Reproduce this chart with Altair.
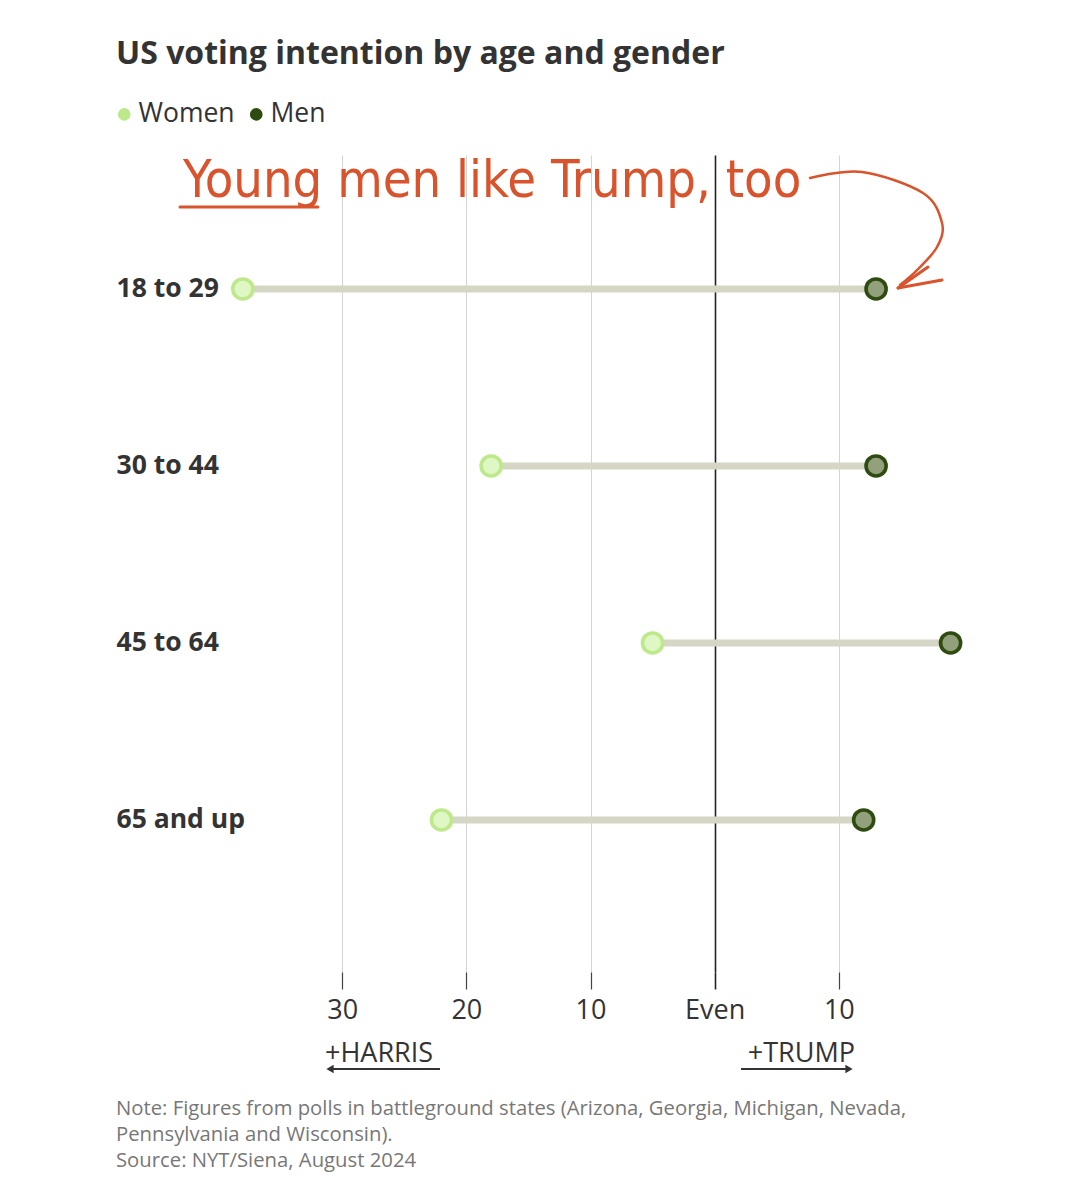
import json
import altair as alt
import pandas as pd

# ---- data (margins in points; negative = Harris lead, positive = Trump lead)
AGES = ["18 to 29", "30 to 44", "45 to 64", "65 and up"]
WOMEN = [-38, -18, -5, -22]
MEN = [13, 13, 19, 12]
GENDERS = ["Women", "Men"]
X_TICKS = [-30, -20, -10, 0, 10]

TITLE = "US voting intention by age and gender"
ANNOTATION = "Young men like Trump, too"
FOOTER = [
    "Note: Figures from polls in battleground states (Arizona, Georgia, Michigan, Nevada,",
    "Pennsylvania and Wisconsin).",
    "Source: NYT/Siena, August 2024",
]

# annotation arrow path (data units: x = margin, y = row index)
ARROW_X = [7.68, 11.87, 16.78, 18.31, 17.91, 16.30, 14.93]
ARROW_Y = [-0.627, -0.661, -0.542, -0.373, -0.237, -0.107, -0.023]

FONT = "Open Sans"
W, H = 745, 817
X_DOMAIN = [-40, 20]
Y_DOMAIN = [-0.757, 3.859]

wide = pd.DataFrame({"age": AGES, "row": list(range(len(AGES))), "women": WOMEN, "men": MEN})
long = pd.DataFrame({
    "gender": [GENDERS[0]] * len(AGES) + [GENDERS[1]] * len(AGES),
    "row": list(range(len(AGES))) * 2,
    "value": WOMEN + MEN,
})

xscale = alt.Scale(domain=X_DOMAIN, nice=False, zero=False)
yscale = alt.Scale(domain=Y_DOMAIN, nice=False, zero=False, reverse=True)

xaxis = alt.Axis(
    values=X_TICKS,
    labelExpr="datum.value == 0 ? 'Even' : abs(datum.value)",
    grid=True,
    gridColor={"condition": {"test": "datum.value === 0", "value": "#222222"}, "value": "#d4d4d4"},
    gridWidth={"condition": {"test": "datum.value === 0", "value": 1.6}, "value": 1},
    tickColor={"condition": {"test": "datum.value === 0", "value": "#222222"}, "value": "#444444"},
    tickWidth={"condition": {"test": "datum.value === 0", "value": 1.6}, "value": 1.2},
    ticks=True, tickSize=17, domain=False,
    labelPadding=8, labelFontSize=27, labelFont=FONT, labelColor="#333333",
    labelFlush=False, title=None,
)
yaxis = alt.Axis(
    values=list(range(len(AGES))),
    labelExpr=json.dumps(AGES) + "[datum.value]",
    grid=False, ticks=False, domain=False,
    labelAlign="left", labelBaseline="middle", labelPadding=102,
    labelFontSize=26.5, labelFont=FONT, labelFontWeight="bold", labelColor="#333333",
    title=None,
)


def X(field):
    return alt.X(field, type="quantitative", scale=xscale, axis=xaxis)


def Y(field):
    return alt.Y(field, type="quantitative", scale=yscale, axis=yaxis)


one = alt.Data(values=[{"a": 1}])

connectors = alt.Chart(wide).mark_rule(strokeWidth=7, color="#d6d6c7").encode(
    x=X("women"), x2="men", y=Y("row")
)

outer = alt.Chart(long).mark_circle(size=560, opacity=1).encode(
    x=X("value"), y=Y("row"),
    color=alt.Color(
        "gender:N",
        scale=alt.Scale(domain=GENDERS, range=["#bde98a", "#2e4c10"]),
        legend=alt.Legend(
            orient="none", legendX=-107, legendY=-54, direction="horizontal",
            title=None, labelFontSize=26.5, labelFont=FONT, labelColor="#333333",
            symbolType="circle", symbolSize=160, symbolStrokeWidth=0,
            labelOffset=1, columnPadding=8, padding=0,
        ),
    ),
)
inner = alt.Chart(long).mark_circle(size=270, opacity=1).encode(
    x=X("value"), y=Y("row"),
    fill=alt.Fill("gender:N", scale=alt.Scale(domain=GENDERS, range=["#dff7c4", "#93a07c"]), legend=None),
)

# handwritten annotation
ann_color = "#d9532c"
ann_text = alt.Chart(pd.DataFrame({"x": [-42.82], "y": [-0.52], "t": [ANNOTATION]})).mark_text(
    align="left", baseline="alphabetic", fontSize=52,
    font="Liberation Sans Narrow, DejaVu Sans Condensed, sans-serif", color=ann_color,
).encode(x=X("x"), y=Y("y"), text="t:N")
ann_under = alt.Chart(pd.DataFrame({"x": [-43.06], "x2": [-31.95], "y": [-0.463]})).mark_rule(
    color=ann_color, strokeWidth=3, strokeCap="round"
).encode(x=X("x"), x2="x2", y=Y("y"))
arrow_df = pd.DataFrame({"x": ARROW_X, "y": ARROW_Y, "o": list(range(len(ARROW_X)))})
ann_arrow = alt.Chart(arrow_df).mark_line(
    color=ann_color, strokeWidth=2.5, interpolate="cardinal", strokeCap="round"
).encode(x=X("x"), y=Y("y"), order="o:Q")
head_df = pd.DataFrame({"x": [14.77, 14.77], "y": [-0.006, -0.006], "x2": [17.18, 18.31], "y2": [-0.124, -0.051]})
ann_head = alt.Chart(head_df).mark_rule(color=ann_color, strokeWidth=3, strokeCap="round").encode(
    x=X("x"), y=Y("y"), x2="x2", y2="y2"
)

# title, direction labels and footer (fixed page furniture)
title = alt.Chart(one).mark_text(
    text=TITLE, align="left", baseline="middle", fontSize=32, font=FONT, fontWeight="bold", color="#333333"
).encode(x=alt.value(-102), y=alt.value(-101))

harris = alt.Chart(one).mark_text(
    text="+HARRIS", align="left", baseline="middle", fontSize=27, font=FONT, color="#333333"
).encode(x=alt.value(107), y=alt.value(899))
trump = alt.Chart(one).mark_text(
    text="+TRUMP", align="right", baseline="middle", fontSize=27, font=FONT, color="#333333"
).encode(x=alt.value(637), y=alt.value(899))
harris_line = alt.Chart(one).mark_rule(color="#333333", strokeWidth=2).encode(
    x=alt.value(112), x2=alt.value(222), y=alt.value(914)
)
trump_line = alt.Chart(one).mark_rule(color="#333333", strokeWidth=2).encode(
    x=alt.value(523), x2=alt.value(630), y=alt.value(914)
)
harris_head = alt.Chart(one).mark_point(shape="triangle-left", filled=True, size=70, color="#333333", opacity=1).encode(
    x=alt.value(112), y=alt.value(914)
)
trump_head = alt.Chart(one).mark_point(shape="triangle-right", filled=True, size=70, color="#333333", opacity=1).encode(
    x=alt.value(631), y=alt.value(914)
)

footer = alt.Chart(one).mark_text(
    text=FOOTER, align="left", baseline="top", fontSize=20.3, font=FONT, color="#777777", lineHeight=26
).encode(x=alt.value(-102), y=alt.value(944))

chart = alt.layer(
    connectors, outer, inner, ann_text, ann_under, ann_arrow, ann_head,
    title, harris, trump, harris_line, trump_line, harris_head, trump_head, footer,
).properties(
    width=W, height=H,
    autosize=alt.AutoSizeParams(type="none"),
    padding={"left": 210, "top": 147, "right": 100, "bottom": 210},
    background="white",
).configure_view(stroke=None)

chart.save("out.html", embed_options={"renderer": "svg", "actions": False})
